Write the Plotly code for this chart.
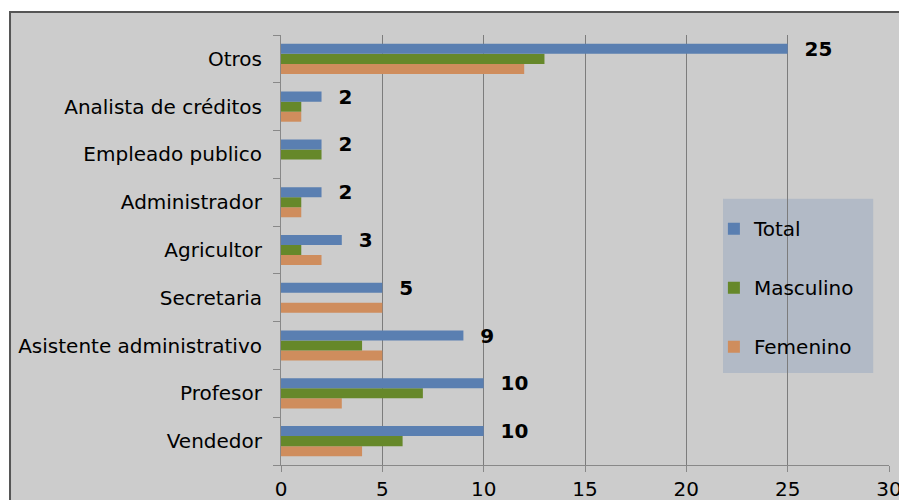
import plotly.graph_objects as go

ocupaciones = ["Vendedor", "Profesor", "Asistente administrativo", "Secretaria",
               "Agricultor", "Administrador", "Empleado publico",
               "Analista de créditos", "Otros"]
total = [10, 10, 9, 5, 3, 2, 2, 2, 25]
masculino = [6, 7, 4, 0, 1, 1, 2, 1, 13]
femenino = [4, 3, 5, 5, 2, 1, 0, 1, 12]
x_ticks = [0, 5, 10, 15, 20, 25, 30]

COLORS = {
    "total": "#5a7fb1",
    "masculino": "#66882a",
    "femenino": "#cf8d5d",
    "bg": "#cccccc",
    "grid": "#7c7c7c",
    "legend_bg": "#b2bac6",
}
FONT = "DejaVu Sans"

fig = go.Figure()
# plotly stacks horizontal groups bottom-up, so Total goes last to sit on top
fig.add_trace(go.Bar(
    y=ocupaciones, x=femenino, name="Femenino", orientation="h",
    marker=dict(color=COLORS["femenino"], line=dict(width=0)),
    legendgroup="f", legendrank=3,
))
fig.add_trace(go.Bar(
    y=ocupaciones, x=masculino, name="Masculino", orientation="h",
    marker=dict(color=COLORS["masculino"], line=dict(width=0)),
    legendgroup="m", legendrank=2,
))
fig.add_trace(go.Bar(
    y=ocupaciones, x=total, name="Total", orientation="h",
    marker=dict(color=COLORS["total"], line=dict(width=0)),
    legendgroup="t", legendrank=1,
    text=total,
    texttemplate="\u00a0\u00a0%{x}",
    textposition="outside",
    textfont=dict(family=FONT, size=20, color="black", weight="bold"),
    cliponaxis=False,
    constraintext="none",
))

fig.update_layout(
    width=907,
    height=500,
    barmode="group",
    bargap=0.37,
    bargroupgap=0,
    paper_bgcolor="white",
    plot_bgcolor="rgba(0,0,0,0)",
    font=dict(family=FONT, size=20, color="black"),
    margin=dict(l=273, r=26, t=27, b=43),
    showlegend=True,
    legend=dict(
        x=0.712, y=0.595, xanchor="left", yanchor="top",
        bgcolor="rgba(0,0,0,0)",
        traceorder="grouped",
        tracegroupgap=30,
        itemwidth=30,
        font=dict(family=FONT, size=20, color="black"),
    ),
    shapes=[
        # outer chart frame
        dict(type="rect", xref="paper", yref="paper",
             x0=-0.4457, x1=1.3, y0=-0.3, y1=1.0535,
             fillcolor=COLORS["bg"], line=dict(color="#555555", width=2),
             layer="below"),
        # legend box
        dict(type="rect", xref="paper", yref="paper",
             x0=0.727, x1=0.974, y0=0.214, y1=0.619,
             fillcolor=COLORS["legend_bg"], line=dict(width=0),
             layer="below"),
    ],
    xaxis=dict(
        range=[0, 30],
        tickvals=x_ticks,
        automargin=False,
        showgrid=True,
        gridcolor=COLORS["grid"],
        gridwidth=1,
        zeroline=False,
        showline=True,
        linecolor="#888888",
        linewidth=1,
        ticks="outside",
        ticklen=6,
        tickcolor="#888888",
        ticklabelstandoff=0,
        tickfont=dict(family=FONT, size=20, color="black"),
    ),
    yaxis=dict(
        type="category",
        categoryorder="array",
        categoryarray=ocupaciones,
        automargin=False,
        showgrid=False,
        zeroline=False,
        showline=True,
        linecolor="#888888",
        linewidth=1,
        ticks="outside",
        tickson="boundaries",
        ticklen=7,
        tickcolor="#888888",
        ticklabelstandoff=14,
        tickfont=dict(family=FONT, size=20, color="black"),
    ),
)

fig.write_html("out.html")
